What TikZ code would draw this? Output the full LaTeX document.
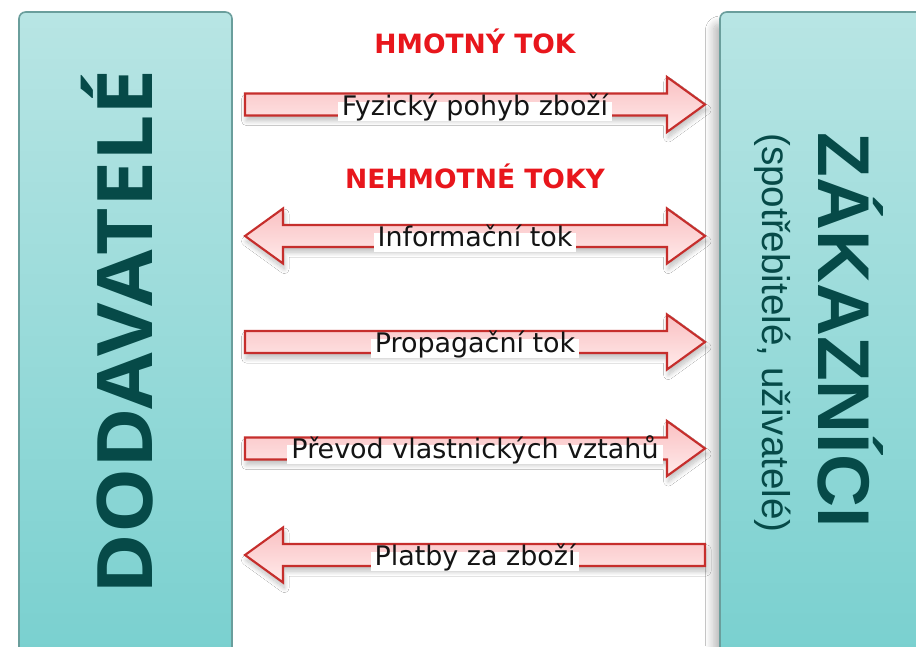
\documentclass[tikz,border=0pt]{standalone}
\usepackage{fontspec}
\setmainfont{DejaVu Sans}
\newfontfamily\sidefont{Open Sans}
\newfontfamily\custfont{Liberation Sans}
\usetikzlibrary{shadows.blur}

\definecolor{boxtop}{HTML}{B8E5E4}
\definecolor{boxbot}{HTML}{76CFCE}
\definecolor{boxline}{HTML}{6A9E9C}
\definecolor{sidetext}{HTML}{064A48}
\definecolor{headred}{HTML}{E8161C}
\definecolor{arrowline}{HTML}{C62E2C}
\definecolor{arrowtop}{HTML}{FAC0C2}
\definecolor{arrowbot}{HTML}{FFEBEB}

\begin{document}
\begin{tikzpicture}[x=0.75pt,y=-0.75pt,
  partybox/.style={draw=boxline, line width=1.2pt, rounded corners=5pt,
    top color=boxtop, bottom color=boxbot},
  flowarrow/.style={draw=arrowline, line width=1.6pt, line join=miter,
    top color=arrowtop, bottom color=arrowbot,
    blur shadow={shadow xshift=1pt, shadow yshift=-4pt,
      shadow blur radius=3.5pt, shadow blur steps=12, shadow opacity=25}},
  flowlabel/.style={fill=white, inner xsep=3pt, inner ysep=2pt,
    text height=0.78em, text depth=0.24em, anchor=base,
    font=\fontsize{20.2}{24}\selectfont, text=black!92},
  heading/.style={anchor=base, text=headred,
    font=\fontsize{19.9}{24}\selectfont\bfseries},
  % arrows are centred on the pic position: 460 px long, heads 38 px long
  pics/rightflow/.style={code={
    \path[flowarrow] (-230,-11) -- (192,-11) -- (192,-27.5) -- (230,0)
      -- (192,27.5) -- (192,11) -- (-230,11) -- cycle;}},
  pics/leftflow/.style={code={
    \path[flowarrow] (230,-11) -- (-192,-11) -- (-192,-27.5) -- (-230,0)
      -- (-192,27.5) -- (-192,11) -- (230,11) -- cycle;}},
  pics/bothflow/.style={code={
    \path[flowarrow] (-192,-11) -- (192,-11) -- (192,-27.5) -- (230,0)
      -- (192,27.5) -- (192,11) -- (-192,11) -- (-192,27.5) -- (-230,0)
      -- (-192,-27.5) -- cycle;}},
]
\clip (0,0) rectangle (916,646);
\fill[white] (0,0) rectangle (916,646);

% the two parties
\path[partybox] (19,12) rectangle (232,690);
\path[partybox, blur shadow={shadow xshift=-5pt, shadow yshift=-9pt,
    shadow blur radius=6pt, shadow blur steps=12, shadow opacity=28}]
  (720,12) rectangle (950,690);

\node[rotate=90, anchor=base, inner sep=0pt, text=sidetext,
  font=\sidefont\fontsize{57.5}{60}\selectfont\bfseries]
  (supp) at (152,332) {\scalebox{1.07}[1]{DODAVATELÉ}};
\node[rotate=-90, anchor=base, inner sep=0pt, text=sidetext,
  font=\custfont\fontsize{55}{60}\selectfont\bfseries]
  (cust) at (818,330) {ZÁKAZNÍCI};
\node[rotate=-90, anchor=base, inner sep=0pt, text=sidetext,
  font=\custfont\fontsize{29}{32}\selectfont]
  (custsub) at (762,333) {(spotřebitelé, uživatelé)};

% section headings
\node[heading] (hmot) at (475,53) {HMOTNÝ TOK};
\node[heading] (nehmot) at (475,188) {NEHMOTNÉ TOKY};

% flows
\pic at (475,104.5) {rightflow};
\pic at (475,236) {bothflow};
\pic at (475,342) {rightflow};
\pic at (475,448.5) {rightflow};
\pic at (475,555) {leftflow};

\node[flowlabel] (f1) at (475,115) {Fyzický pohyb zboží};
\node[flowlabel] (f2) at (475,246.5) {Informační tok};
\node[flowlabel] (f3) at (475,352.5) {Propagační tok};
\node[flowlabel] (f4) at (475,458.5) {Převod vlastnických vztahů};
\node[flowlabel] (f5) at (475,565.5) {Platby za zboží};
\end{tikzpicture}
\end{document}
